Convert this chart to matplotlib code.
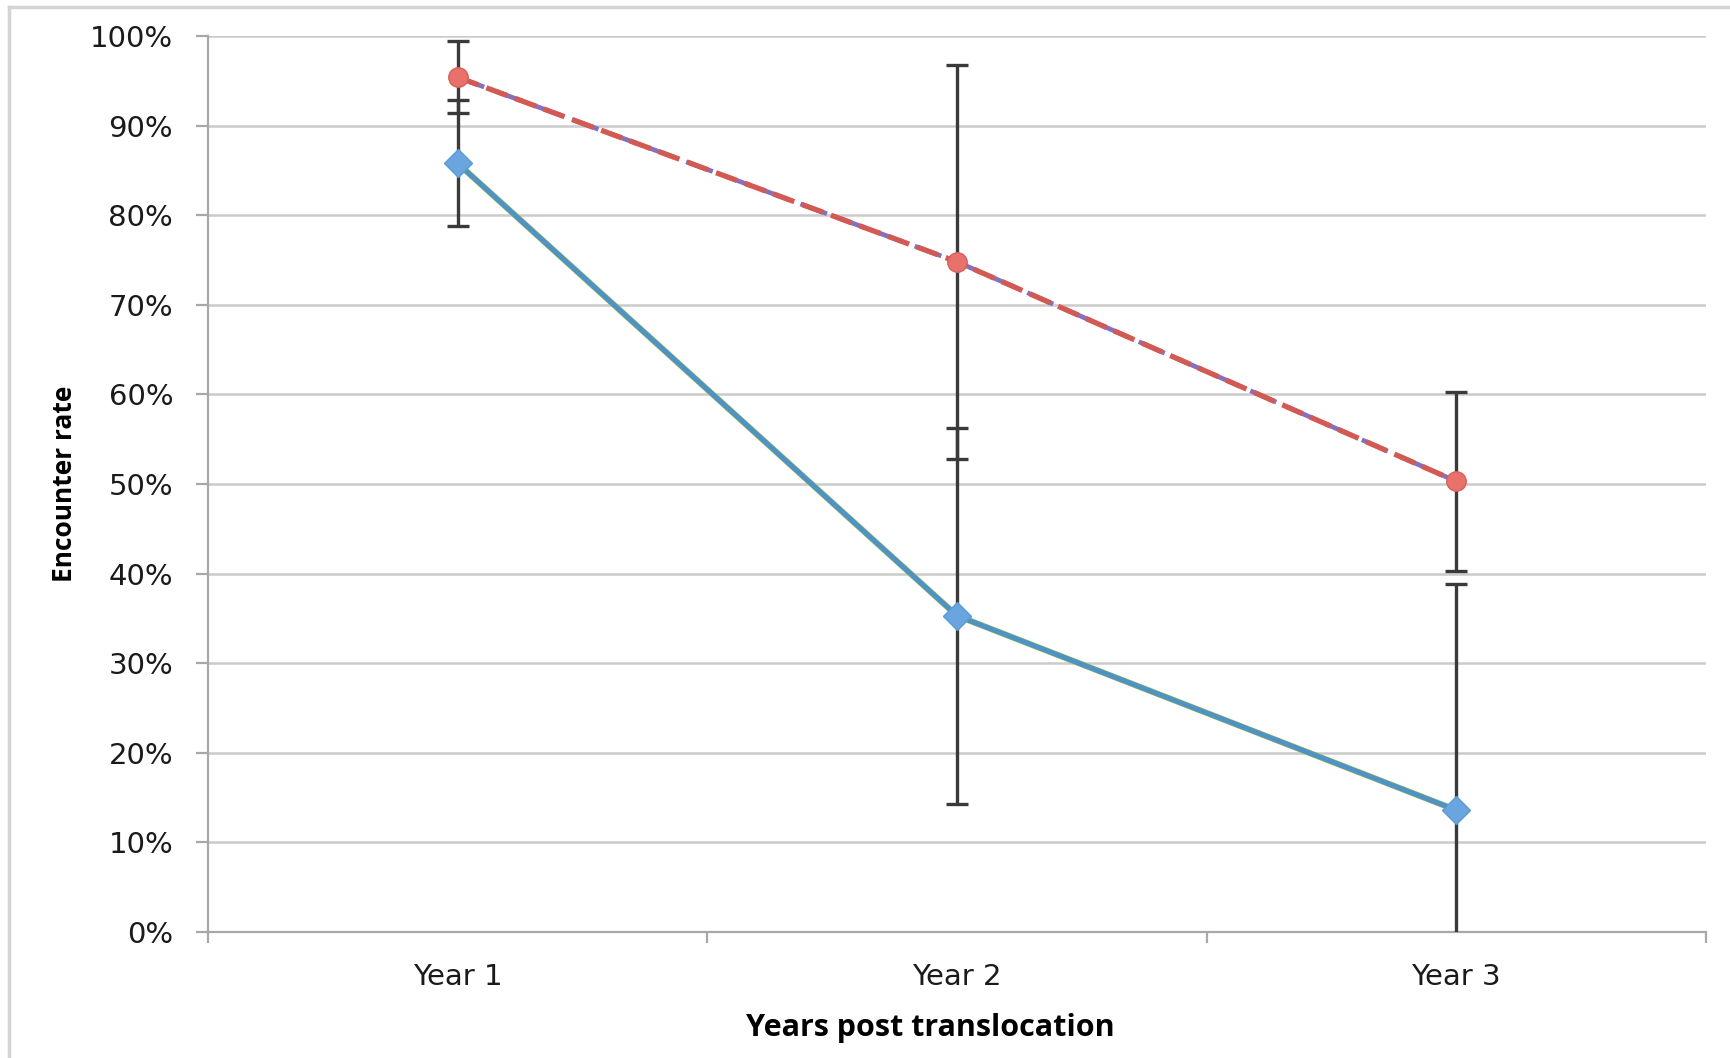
import numpy as np
import matplotlib
matplotlib.use("Agg")
import matplotlib.pyplot as plt
from matplotlib.lines import Line2D
from matplotlib.ticker import FixedLocator, PercentFormatter

# encounter rates (%) per year after translocation
years = ["Year 1", "Year 2", "Year 3"]
rate_upper = [95.4, 74.8, 50.3]     # dashed red series
err_upper = [4.0, 22.0, 10.0]
rate_lower = [85.8, 35.3, 13.6]     # solid blue series
err_lower = [7.0, 21.0, 25.2]

plt.rcParams['font.family'] = ['DejaVu Sans']
label_font = ['Open Sans', 'DejaVu Sans']

fig = plt.figure(figsize=(17.30, 10.58), dpi=100)
ax = fig.add_axes([0.1202, 0.1191, 0.8659, 0.8469])

x = np.arange(len(years))

# error bars first so the markers sit on top
ax.errorbar(x, rate_upper, yerr=err_upper, fmt='none', ecolor='#3a3a3a',
            elinewidth=2.4, capsize=8, capthick=2.4, zorder=3)
ax.errorbar(x, rate_lower, yerr=err_lower, fmt='none', ecolor='#3a3a3a',
            elinewidth=2.4, capsize=8, capthick=2.4, zorder=3)

# blue series
ax.plot(x, rate_lower, color='#9bbb59', lw=4.4, zorder=4)
ax.plot(x, rate_lower, color='#4f93c4', lw=3.6, zorder=4,
        marker='D', markersize=14, markerfacecolor='#6aa5e0',
        markeredgecolor='#5b9bd5', markeredgewidth=1)

# red dashed series over a dashed purple line
ax.plot(x, rate_upper, color='#8a6fb8', lw=3.4, zorder=4,
        dashes=(6.0, 2.6))
ax.plot(x, rate_upper, color='#d35a52', lw=3.8, zorder=4,
        dashes=(4.2, 1.6))
ax.plot(x, rate_upper, linestyle='none', zorder=5,
        marker='o', markersize=14, markerfacecolor='#e8716c',
        markeredgecolor='#d8605c', markeredgewidth=1)

ax.set_xlim(-0.5, 2.5)
ax.set_ylim(0, 100)
ax.set_yticks(np.arange(0, 101, 10))
ax.yaxis.set_major_formatter(PercentFormatter(decimals=0))
ax.set_xticks(x)
ax.set_xticklabels(years)
ax.xaxis.set_minor_locator(FixedLocator([-0.5, 0.5, 1.5, 2.5]))

ax.grid(axis='y', color='#cbcbcb', lw=1.8, zorder=0)
ax.set_axisbelow(True)

for side in ('top', 'right'):
    ax.spines[side].set_visible(False)
for side in ('left', 'bottom'):
    ax.spines[side].set_color('#a8a8a8')
    ax.spines[side].set_linewidth(1.6)

ax.tick_params(axis='y', which='major', length=9, width=1.6, color='#a8a8a8',
               labelsize=21, labelcolor='#1a1a1a', pad=16)
ax.tick_params(axis='x', which='major', length=0, labelsize=21,
               labelcolor='#1a1a1a', pad=22)
ax.tick_params(axis='x', which='minor', length=8, width=1.6, color='#a8a8a8')

ax.set_ylabel("Encounter rate", fontsize=19, fontweight='bold',
              family=label_font, labelpad=9)
ax.set_xlabel("Years post translocation", fontsize=22, fontweight='bold',
              family=label_font, labelpad=16)
ax.xaxis.label.set_x(0.482)

# outer chart frame (left and top edges only)
fig.add_artist(Line2D([9 / 1730, 9 / 1730], [0, 1 - 7 / 1058],
                      transform=fig.transFigure, color='#d4d4d4', lw=2.5))
fig.add_artist(Line2D([9 / 1730, 1], [1 - 7 / 1058, 1 - 7 / 1058],
                      transform=fig.transFigure, color='#d4d4d4', lw=2.5))

fig.savefig("out.png", dpi=100)
